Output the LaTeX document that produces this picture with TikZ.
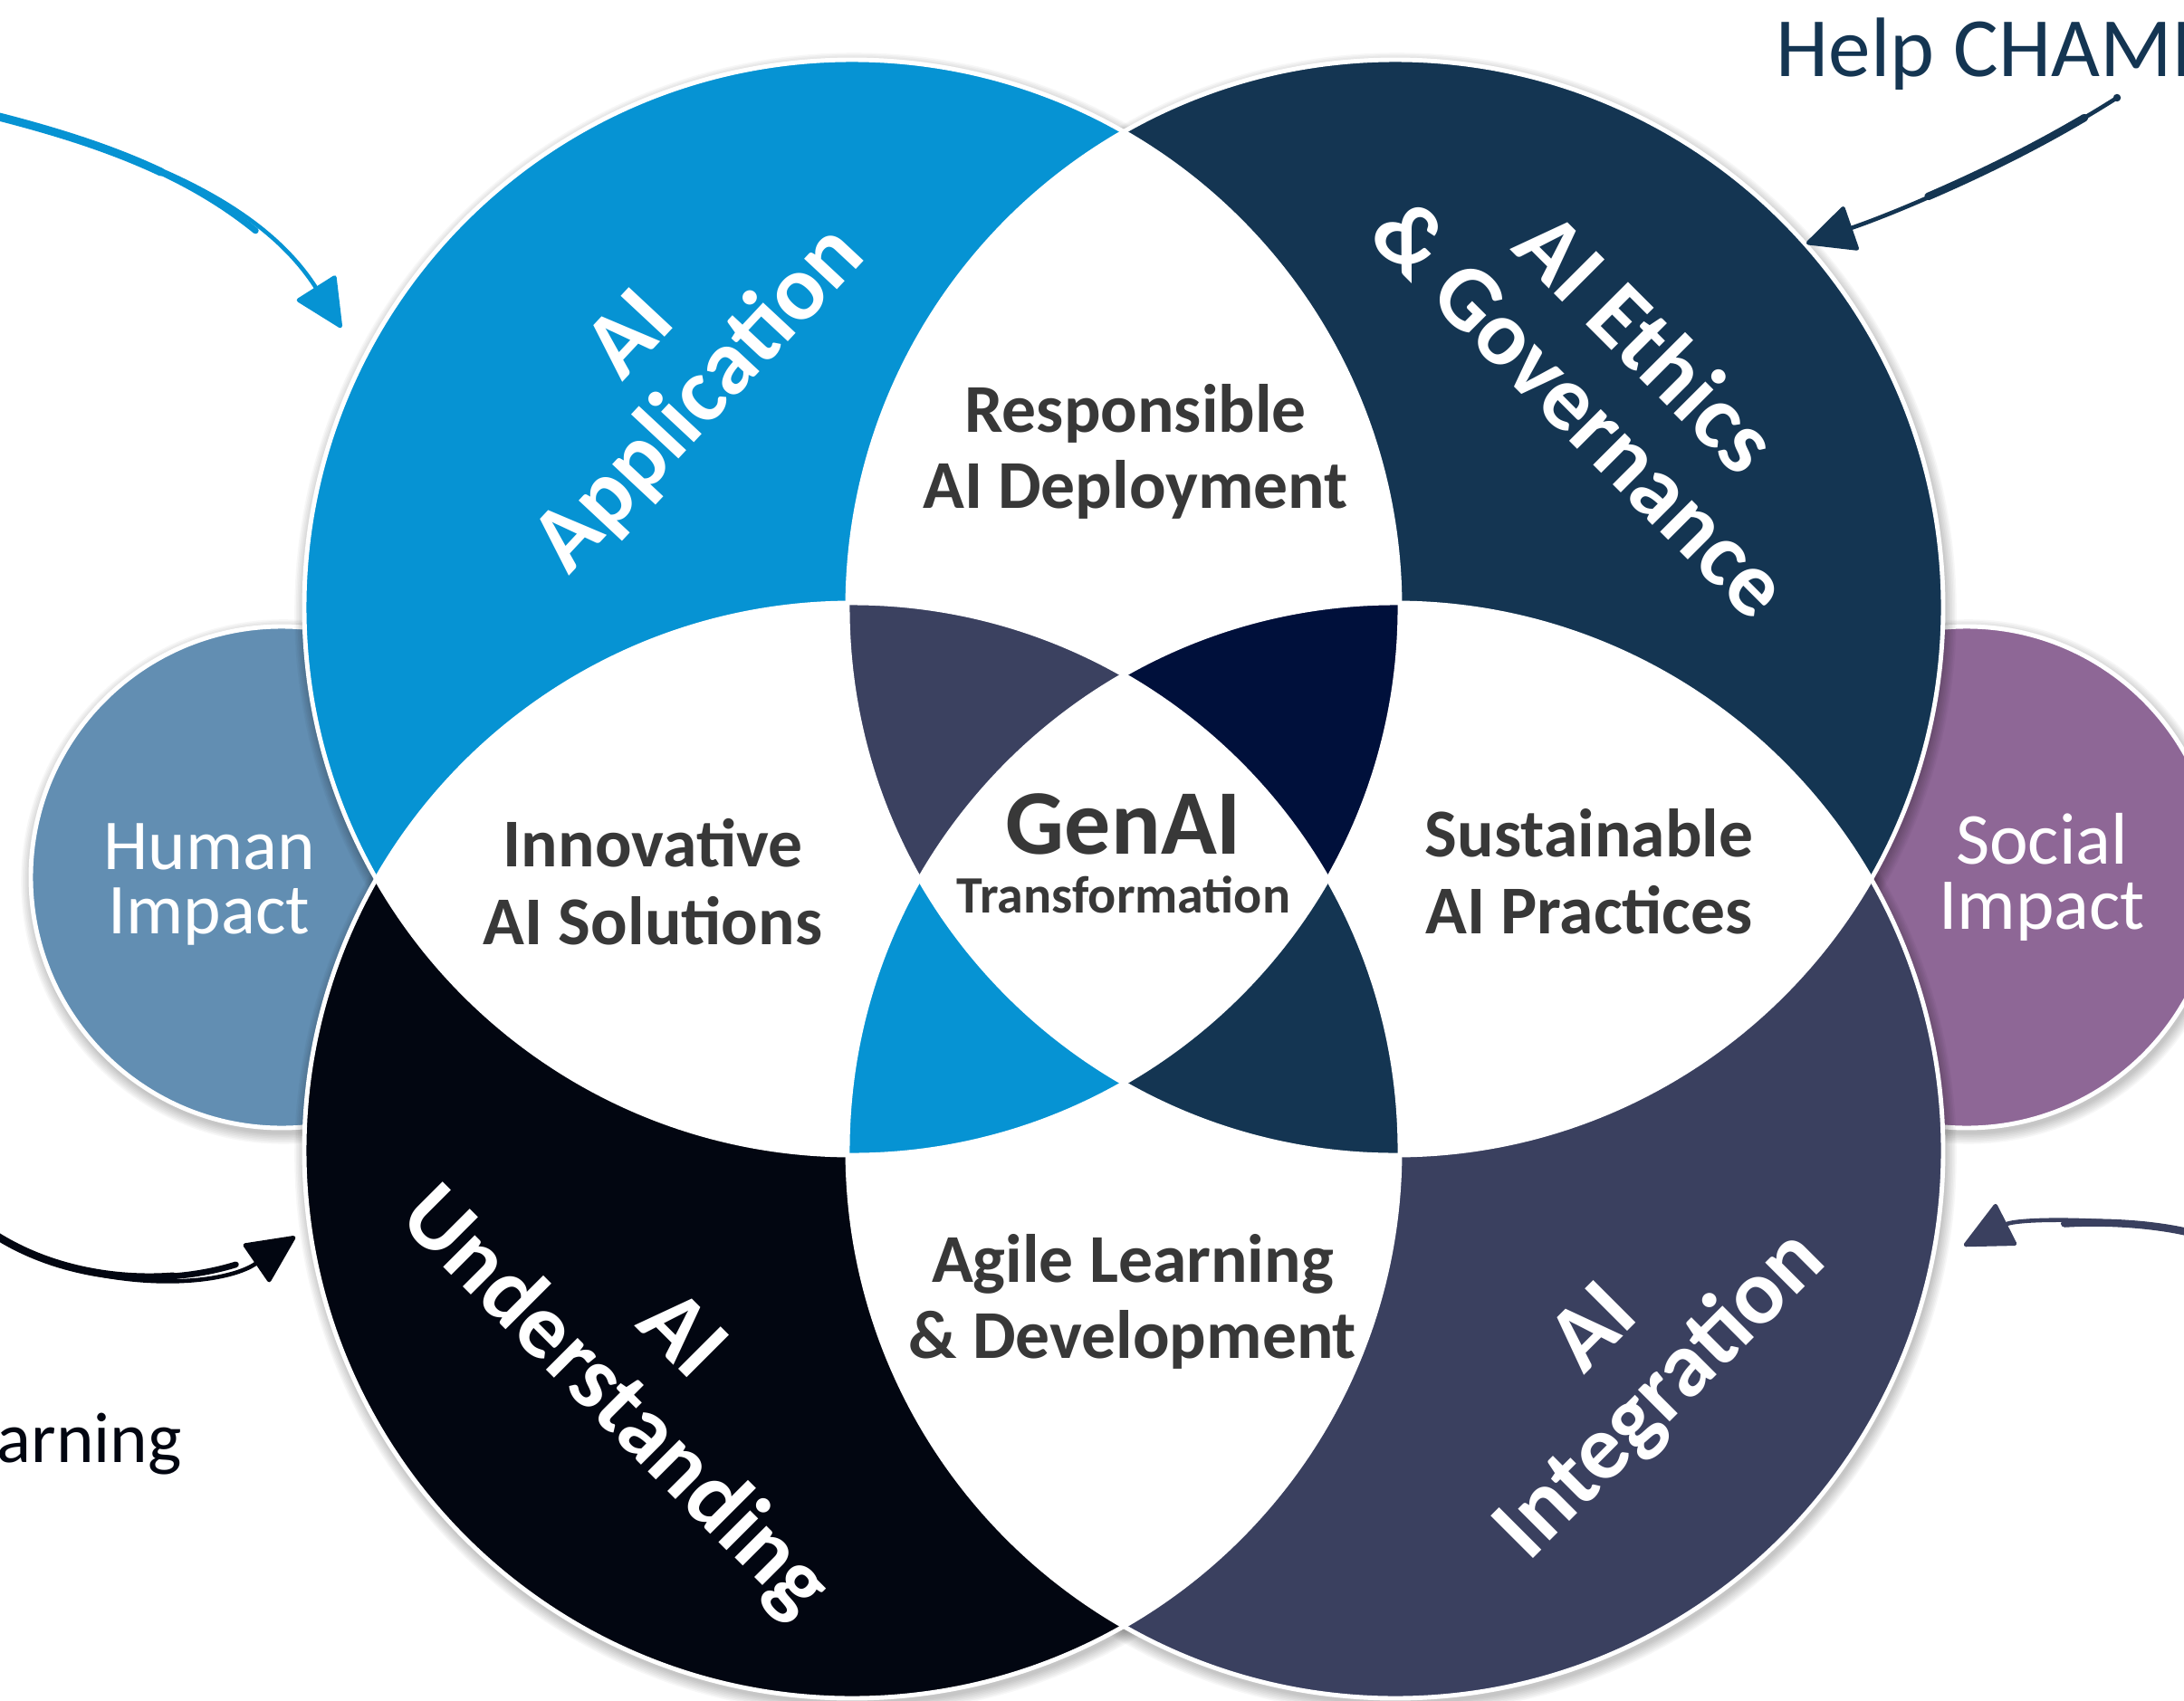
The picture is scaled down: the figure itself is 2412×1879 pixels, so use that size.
\documentclass[tikz,border=0pt]{standalone}
\usepackage{fontspec}
\setmainfont{Carlito}
\usetikzlibrary{arrows.meta}
\definecolor{cblue}{HTML}{0693D3}
\definecolor{cnavy}{HTML}{143552}
\definecolor{cblack}{HTML}{020611}
\definecolor{cslate}{HTML}{3A405F}
\definecolor{cpetalTL}{HTML}{3B4160}
\definecolor{cpetalTR}{HTML}{00103B}
\definecolor{chuman}{HTML}{628EB2}
\definecolor{csocial}{HTML}{8E6796}
\definecolor{ctext}{HTML}{383838}
\newcommand\circshadow[2]{\foreach \k in {1,...,8}{\fill[black,opacity=0.03] ([shift={(2,5)}]#1) circle[radius={#2+\k*1.6}];}}
\begin{document}
\begin{tikzpicture}[x=0.01cm,y=-0.01cm,
  biglabel/.style={text=white, font=\bfseries\fontsize{29}{29.5}\selectfont, align=center, inner sep=0pt},
  innerlabel/.style={text=ctext, font=\bfseries\fontsize{21.5}{24}\selectfont, anchor=base, inner sep=0pt},
  sidelabel/.style={text=white, font=\fontsize{22.5}{24}\selectfont, anchor=base, inner sep=0pt},
  circleline/.style={white, line width=1.4pt},
  arrowline/.style={line width=1.3pt, line cap=round, -{Triangle[length=16pt,width=15pt,round]}},
  thickpart/.style={line cap=round},
]
\clip (0,0) rectangle (2412,1879);
\useasboundingbox (0,0) rectangle (2412,1879);
\def\R{605}
\coordinate (cTL) at (941,671);
\coordinate (cTR) at (1541,671);
\coordinate (cBL) at (941,1271);
\coordinate (cBR) at (1541,1271);
\coordinate (cHU) at (311,969);
\coordinate (cSO) at (2172,969);

% side circles
\circshadow{cHU}{277}
\circshadow{cSO}{277}
\fill[chuman] (cHU) circle[radius=277];
\draw[circleline] (cHU) circle[radius=277];
\fill[csocial] (cSO) circle[radius=277];
\draw[circleline] (cSO) circle[radius=277];

% big circles
\foreach \c in {cTL,cTR,cBL,cBR}{\circshadow{\c}{\R}}
\fill[cblue] (cTL) circle[radius=\R];
\fill[cnavy] (cTR) circle[radius=\R];
\fill[cblack] (cBL) circle[radius=\R];
\fill[cslate] (cBR) circle[radius=\R];

% pairwise lenses
\foreach \p/\q in {cTL/cTR,cTL/cBL,cTR/cBR,cBL/cBR}{
  \begin{scope}\clip (\p) circle[radius=\R]; \fill[white] (\q) circle[radius=\R];\end{scope}}

% triple petals
\begin{scope}\clip (cTR) circle[radius=\R]; \clip (cBL) circle[radius=\R]; \fill[cpetalTL] (cTL) circle[radius=\R];\end{scope}
\begin{scope}\clip (cTL) circle[radius=\R]; \clip (cTR) circle[radius=\R]; \fill[cpetalTR] (cBR) circle[radius=\R];\end{scope}
\begin{scope}\clip (cTL) circle[radius=\R]; \clip (cBL) circle[radius=\R]; \fill[cblue] (cBR) circle[radius=\R];\end{scope}
\begin{scope}\clip (cTR) circle[radius=\R]; \clip (cBR) circle[radius=\R]; \fill[cnavy] (cBL) circle[radius=\R];\end{scope}
% centre
\begin{scope}\clip (cTL) circle[radius=\R]; \clip (cTR) circle[radius=\R]; \clip (cBL) circle[radius=\R]; \fill[white] (cBR) circle[radius=\R];\end{scope}

\foreach \c in {cTL,cTR,cBL,cBR}{\draw[circleline] (\c) circle[radius=\R];}

% big labels
\node[biglabel, rotate=47] (app) at (737,408) {AI\\Application};
\node[biglabel, rotate=-45] (eth) at (1783,414) {AI Ethics\\\& Governance};
\node[biglabel, rotate=-45] (und) at (713,1515) {AI\\Understanding};
\node[biglabel, rotate=45] (int) at (1800,1507) {AI\\Integration};

% inner labels
\node[innerlabel] (resp1) at (1254,477) {Responsible};
\node[innerlabel] (resp2) at (1254,561) {AI Deployment};
\node[innerlabel] (inno1) at (721,957) {Innovative};
\node[innerlabel] (inno2) at (721,1043) {AI Solutions};
\node[innerlabel] (sust1) at (1755,946) {Sustainable};
\node[innerlabel] (sust2) at (1755,1031) {AI Practices};
\node[innerlabel] (agil1) at (1251,1416) {Agile Learning};
\node[innerlabel] (agil2) at (1251,1500) {\& Development};
\node[innerlabel, font=\bfseries\fontsize{29}{29}\selectfont] (gen1) at (1241,943) {GenAI};
\node[innerlabel, font=\bfseries\fontsize{16.5}{18}\selectfont] (gen2) at (1241,1008) {Transformation};

% side labels
\node[sidelabel] (hum1) at (231,960) {Human};
\node[sidelabel] (hum2) at (231,1031) {Impact};
\node[sidelabel, font=\fontsize{23}{24}\selectfont] (soc1) at (2255,954) {Social};
\node[sidelabel, font=\fontsize{23}{24}\selectfont] (soc2) at (2255,1026) {Impact};

% outside texts
\node[anchor=base west, inner sep=0pt, text=cnavy, font=\fontsize{26.5}{29}\selectfont] (help) at (1961,85) {Help CHAMI};
\node[anchor=base west, inner sep=0pt, text=cblack, font=\fontsize{22.5}{24}\selectfont] (learn) at (-4,1615) {arning};

% arrows
\coordinate (aTLs) at (-5,128);  \coordinate (aTLe) at (377,362);
\coordinate (aTRs) at (2338,108); \coordinate (aTRe) at (1995,269);
\coordinate (aBLs) at (-10,1361); \coordinate (aBLe) at (326,1366);
\coordinate (aBRs) at (2420,1362); \coordinate (aBRe) at (2169,1376);

\draw[arrowline, cblue] (aTLs) .. controls (160,170) and (290,225) .. (aTLe);
\draw[thickpart, cblue, line width=2.6pt, dash pattern=on 55pt off 2000pt] (aTLs) .. controls (160,170) and (290,225) .. (aTLe);
\draw[thickpart, cblue, line width=2pt, dash pattern=on 90pt off 2000pt] (aTLs) .. controls (160,170) and (290,225) .. (aTLe);

\draw[arrowline, cnavy] (aTRs) .. controls (2228,178) and (2105,231) .. (aTRe);
\draw[thickpart, cnavy, line width=2.4pt, dash pattern=on 0pt off 12pt on 55pt off 2000pt] (aTRs) .. controls (2228,178) and (2105,231) .. (aTRe);

\draw[arrowline, cblack] (aBLs) .. controls (90,1428) and (240,1425) .. (aBLe);
\draw[thickpart, cblack, line width=2.4pt, dash pattern=on 60pt off 2000pt] (aBLs) .. controls (90,1428) and (240,1425) .. (aBLe);
\draw[thickpart, cblack, line width=1.9pt, dash pattern=on 80pt off 2000pt] (aBLs) .. controls (90,1428) and (240,1425) .. (aBLe);

\draw[arrowline, cslate] (aBRs) .. controls (2350,1345) and (2230,1345) .. (aBRe);
\draw[thickpart, cslate, line width=2.4pt, dash pattern=on 40pt off 2000pt] (aBRs) .. controls (2350,1345) and (2230,1345) .. (aBRe);
\end{tikzpicture}
\end{document}
